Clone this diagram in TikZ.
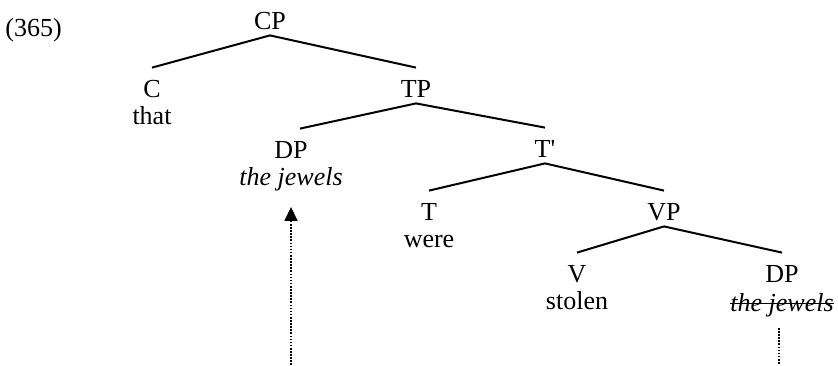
\documentclass[tikz,border=0pt]{standalone}
\usepackage{fontspec}
\setmainfont{Liberation Serif}
\usetikzlibrary{arrows.meta}

\begin{document}
\begin{tikzpicture} [x=0.5pt, y=-0.5pt,
        every node/.style={font=\fontsize{13}{15}\selectfont, inner sep=0pt},
        cat/.style={anchor=base, text height=14.5pt, text depth=3pt},
        word/.style={anchor=base},
        branch/.style={line width=1pt},
        strike/.style={line width=0.75pt},
        trace/.style={line width=0.8pt, dash pattern=on 0.8pt off 0.75pt}]
            \useasboundingbox (0,0) rectangle (838,365);
            \node[word, anchor=base west] (exnum) at (5,36) {(365)};

            % categories
            \node[cat] (CP) at (270,29) {CP};
            \node[cat] (C) at (152,97) {C}; \node[cat] (TP) at (416,97) {TP};
            \node[cat] (DP) at (291,158) {DP}; \node[cat] (Tbar) at (545,157) {T\textquotesingle};
            \node[cat] (T) at (429,220) {T}; \node[cat] (VP) at (664,220) {VP};
            \node[cat] (V) at (577,282) {V}; \node[cat] (DPt) at (782,282) {DP};

            % words
            \node[word] (that) at ([yshift=-13.5pt]C.base) {that};
            \node[word] (jewels) at ([yshift=-13.5pt]DP.base) {\textit{the jewels}};
            \node[word] (were) at ([yshift=-13.5pt]T.base) {were};
            \node[word] (stolen) at ([yshift=-13.5pt]V.base) {stolen};
            \node[word] (jewelsT) at ([yshift=-14.5pt]DPt.base) {\textit{the jewels}};
            \draw[strike] ([yshift=3.8pt]jewelsT.base west) -- ([yshift=3.8pt]jewelsT.base east);

            \foreach \p/\c in {CP/C, CP/TP, TP/Tbar, Tbar/T, Tbar/VP, VP/V, VP/DPt}
                \draw[branch] (\p.south) -- (\c.north);
            \draw[branch] (TP.south) -- ([xshift=4.5pt]DP.north);

            % movement
            \coordinate (src) at (291,365); \coordinate (sink) at (779,365);
            \draw[trace, -{Triangle[width=6.5pt,length=7pt]}, shorten >=8pt] (src) -- (jewels.south);
            \draw[trace, shorten <=5.5pt] (jewelsT.south -| sink) -- (sink);
        \end{tikzpicture}
\end{document}
